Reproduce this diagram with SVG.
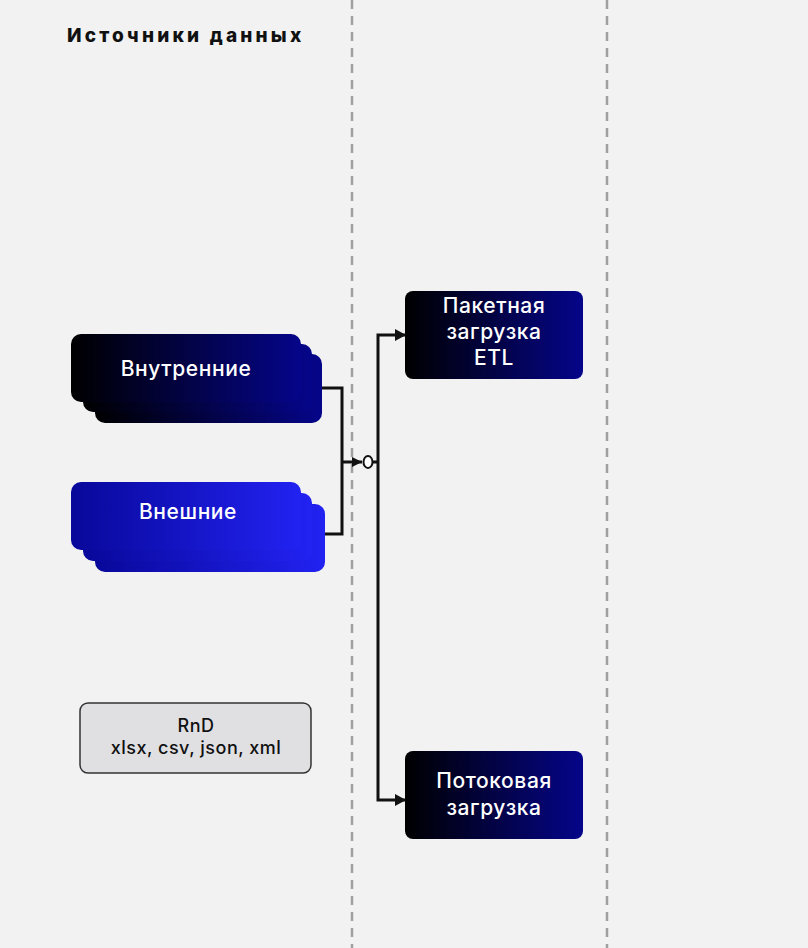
<svg xmlns="http://www.w3.org/2000/svg" width="808" height="948" viewBox="0 0 808 948">
<defs>
<linearGradient id="dk" x1="0" x2="1" y1="0" y2="0"><stop offset="0" stop-color="#000000"/><stop offset="1" stop-color="#05058a"/></linearGradient>
<linearGradient id="bl" x1="0" x2="1" y1="0" y2="0"><stop offset="0" stop-color="#08089a"/><stop offset="1" stop-color="#2222f2"/></linearGradient>
<marker id="ar" viewBox="0 0 10 10" refX="10" refY="5" markerWidth="10" markerHeight="10" markerUnits="userSpaceOnUse" orient="auto"><path d="M0,0 L10,5 L0,10 z" fill="#111"/></marker>
</defs>
<style>
.t{font-family:Inter,"Liberation Sans",sans-serif;font-size:21px;letter-spacing:0.6px;fill:#fff;font-weight:500;text-anchor:middle}
.c{fill:none;stroke:#111;stroke-width:3}
.d{stroke:#a0a0a0;stroke-width:2.5;stroke-dasharray:9 7}
</style>
<rect width="808" height="948" fill="#f2f2f2"/>
<line class="d" x1="352" y1="0" x2="352" y2="948"/>
<line class="d" x1="607" y1="0" x2="607" y2="948"/>
<text x="67" y="42" font-family="Inter,'Liberation Sans',sans-serif" font-size="19" font-weight="800" letter-spacing="3.2" fill="#111">Источники данных</text>
<g id="internal">
<rect x="95" y="354" width="227" height="69" rx="10" fill="url(#dk)"/>
<rect x="83" y="344" width="229" height="68" rx="10" fill="url(#dk)"/>
<rect x="71" y="334" width="230" height="68" rx="10" fill="url(#dk)"/>
<text class="t" x="186" y="376">Внутренние</text>
</g>
<g id="external">
<rect x="95" y="504" width="230" height="68" rx="10" fill="url(#bl)"/>
<rect x="83" y="493" width="229" height="68" rx="10" fill="url(#bl)"/>
<rect x="71" y="482" width="230" height="68" rx="10" fill="url(#bl)"/>
<text class="t" x="188" y="519">Внешние</text>
</g>
<g id="rnd">
<rect x="80" y="703" width="231" height="70" rx="8" fill="#e0e0e3" stroke="#333" stroke-width="1.5"/>
<text x="196" y="732" font-family="Inter,'Liberation Sans',sans-serif" font-size="18" font-weight="500" letter-spacing="0.5" fill="#111" text-anchor="middle">RnD</text>
<text x="196" y="754" font-family="Inter,'Liberation Sans',sans-serif" font-size="18" font-weight="500" letter-spacing="0.5" fill="#111" text-anchor="middle">xlsx, csv, json, xml</text>
</g>
<g id="batch">
<rect x="405" y="291" width="178" height="88" rx="8" fill="url(#dk)"/>
<text class="t" x="494" y="313">Пакетная</text>
<text class="t" x="494" y="339">загрузка</text>
<text class="t" x="494" y="365">ETL</text>
</g>
<g id="stream">
<rect x="405" y="751" width="178" height="88" rx="8" fill="url(#dk)"/>
<text class="t" x="494" y="788">Потоковая</text>
<text class="t" x="494" y="815">загрузка</text>
</g>
<g id="connectors">
<path class="c" d="M322,388 H342 V534 H325"/>
<path class="c" d="M342,462 H362" marker-end="url(#ar)"/>
<ellipse cx="368" cy="462" rx="4.5" ry="6" fill="#fff" stroke="#111" stroke-width="2"/>
<path class="c" d="M372.5,462 H378"/>
<path class="c" d="M405,335 H378 V800 H405"/>
<path d="M395,329 L406,335 L395,341 z" fill="#111"/>
<path d="M395,794 L406,800 L395,806 z" fill="#111"/>
</g>
</svg>
